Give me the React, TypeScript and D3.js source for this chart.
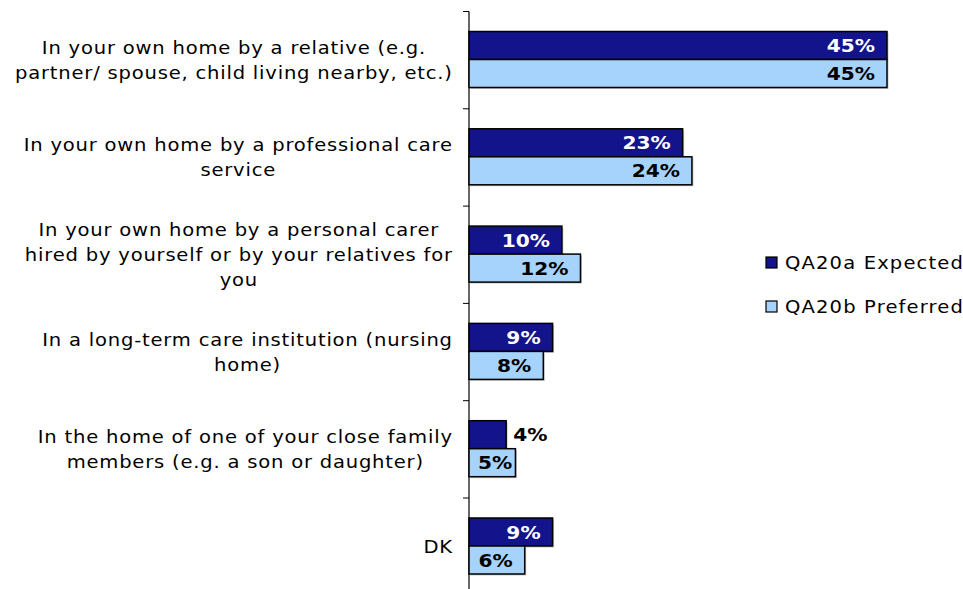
import React, { useLayoutEffect, useRef, useState } from "react";
import * as d3 from "d3";

const categories: string[] = [
  "In your own home by a relative (e.g.\npartner/ spouse, child living nearby, etc.)",
  "In your own home by a professional care\nservice",
  "In your own home by a personal carer\nhired by yourself or by your relatives for\nyou",
  "In a long-term care institution (nursing\nhome)",
  "In the home of one of your close family\nmembers (e.g. a son or daughter)",
  "DK",
];
const seriesNames: string[] = ["QA20a Expected", "QA20b Preferred"];
const expected: number[] = [45, 23, 10, 9, 4, 9];
const preferred: number[] = [45, 24, 12, 8, 5, 6];
const seriesColors: string[] = ["#13138b", "#a6d3fb"];
const labelColorsInside: string[] = ["#ffffff", "#000000"];

const W = 963;
const H = 589;
const FONT = "'DejaVu Sans', Verdana, sans-serif";
const SX = 1.15;

export default function App() {
  const x0 = 469;
  const x = d3.scaleLinear().domain([0, 45]).range([x0, 887]);
  const y = d3.scaleBand<number>().domain(d3.range(categories.length)).range([11.5, 11.5 + 6 * 97.3]).padding(0);
  const inner = d3.scaleBand<number>().domain([0, 1]).range([20, 76]).padding(0);
  const series = [expected, preferred];

  const measureRef = useRef<SVGTextElement | null>(null);
  const [blockW, setBlockW] = useState<number[]>(categories.map(() => 420));

  useLayoutEffect(() => {
    const el = measureRef.current;
    if (!el) return;
    const ws = categories.map((c) => {
      let m = 0;
      for (const l of c.split("\n")) {
        el.textContent = l;
        m = Math.max(m, el.getComputedTextLength());
      }
      return m * SX;
    });
    el.textContent = "";
    setBlockW(ws);
  }, []);

  const labelW = (s: string) => {
    let w = 0;
    for (const c of s) w += c === "%" ? 1.002 : 0.696;
    return w * 18 * 1.12;
  };

  return (
    <svg width={W} height={H} style={{ position: "absolute", left: 0, top: 0, background: "#fff" }} fontFamily={FONT}>
      <text ref={measureRef} fontSize={17} letterSpacing={0.7} x={-1000} y={-1000} />
      {/* axis */}
      <line x1={x0} x2={x0} y1={y(0)} y2={H + 10} stroke="#000" strokeWidth={1.2} />
      {d3.range(categories.length).map((i) => (
        <line key={"t" + i} x1={x0 - 6} x2={x0} y1={y(i)} y2={y(i)} stroke="#000" strokeWidth={1} />
      ))}
      {/* category labels */}
      {categories.map((c, i) => {
        const lines = c.split("\n");
        const cy = (y(i) as number) + y.bandwidth() / 2;
        const lh = 25;
        const cx = 453 - blockW[i] / 2;
        return (
          <g key={"c" + i} transform={`translate(${cx},0) scale(${SX},1)`}>
            <text fontSize={17} letterSpacing={0.7} fill="#000" textAnchor="middle">
              {lines.map((l, j) => (
                <tspan key={j} x={0} y={cy + (j - (lines.length - 1) / 2) * lh + 6.5}>
                  {l}
                </tspan>
              ))}
            </text>
          </g>
        );
      })}
      {/* bars */}
      {series.map((vals, s) =>
        vals.map((v, i) => {
          const top = (y(i) as number) + (inner(s) as number);
          const h = inner.bandwidth();
          const xe = x(v);
          const lbl = `${v}%`;
          const lw = labelW(lbl);
          const bw = xe - x0;
          let tx: number;
          let color: string;
          if (bw < lw + 9) {
            tx = xe + 7;
            color = "#000";
          } else {
            tx = Math.max(xe - 12 - lw, x0 + 9);
            color = labelColorsInside[s];
          }
          return (
            <g key={`b${s}-${i}`}>
              <rect x={x0 + 1.5} y={top + 1.5} width={bw} height={h} fill="#c8c8c8" />
              <rect x={x0} y={top} width={bw} height={h} fill={seriesColors[s]} stroke="#000" strokeWidth={1.5} />
              <text
                transform={`translate(${tx},${top + h / 2 + 6.5}) scale(1.12,1)`}
                fontSize={18}
                fontWeight="bold"
                fill={color}
              >
                {lbl}
              </text>
            </g>
          );
        })
      )}
      {/* legend */}
      {seriesNames.map((n, s) => (
        <g key={"l" + s}>
          <rect x={766} y={257 + s * 44} width={11} height={11} fill={seriesColors[s]} stroke="#000" strokeWidth={1.2} />
          <text transform={`translate(785,${268.5 + s * 44}) scale(${SX},1)`} fontSize={17} letterSpacing={1} fill="#000">
            {n}
          </text>
        </g>
      ))}
    </svg>
  );
}
